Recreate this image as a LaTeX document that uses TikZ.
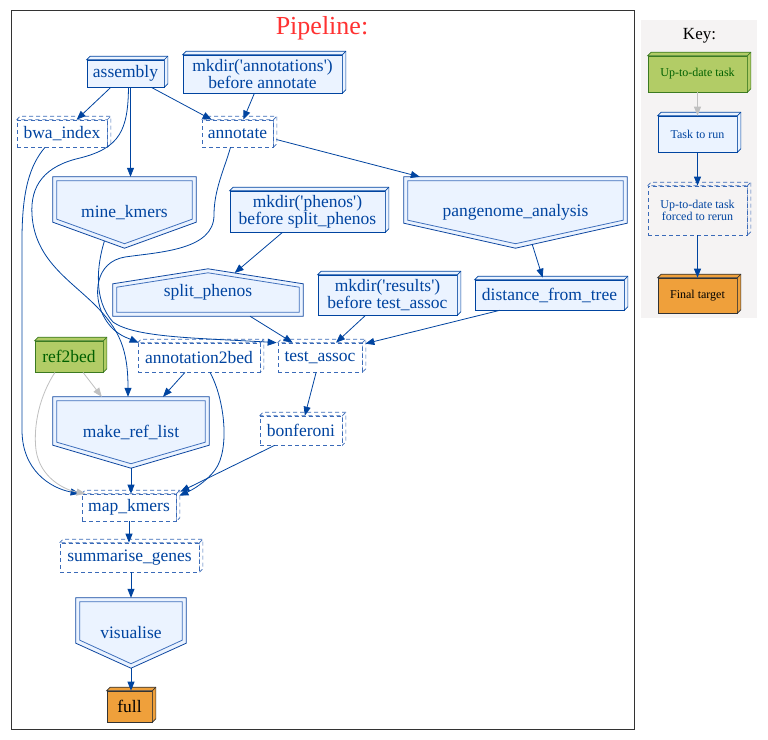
\documentclass[tikz,border=0pt]{standalone}
\usepackage{fontspec}
\setmainfont{Liberation Serif}[Ligatures=TeXOff]
\usetikzlibrary{arrows.meta,calc}
\pgfdeclarelayer{bg}
\pgfsetlayers{bg,main}
\definecolor{tblue}{HTML}{0044A0}
\definecolor{tfill}{HTML}{EBF3FF}
\definecolor{lblue}{HTML}{3A6AB8}
\definecolor{hout}{HTML}{0F47A0}
\definecolor{hin}{HTML}{4070BC}
\definecolor{gfill}{HTML}{B2CC66}
\definecolor{gline}{HTML}{3B7A21}
\definecolor{gtext}{HTML}{006000}
\definecolor{ofill}{HTML}{EFA03B}
\definecolor{keybg}{HTML}{F5F3F3}
\definecolor{titlered}{HTML}{FF3232}
\definecolor{egray}{HTML}{C0C0C0}
\definecolor{framec}{HTML}{333333}
\newcommand\mainf{\fontsize{17.5}{17}\selectfont}
\newcommand\keyf{\fontsize{12}{12.7}\selectfont}
\newcommand\threed[3]{%
  \path[#2, fill=#3] (#1.north west) -- ++(3.5pt,3.5pt) -- ([shift={(3.5pt,3.5pt)}]#1.north east) -- ([shift={(3.5pt,3.5pt)}]#1.south east) -- (#1.south east) -- (#1.north east) -- cycle;
  \path[#2] (#1.north east) -- ++(3.5pt,3.5pt);
}
\newcommand\ihouse[2]{%
  \coordinate (#1-sw) at ($(#1.south west)+(0,-#2)$);
  \coordinate (#1-se) at ($(#1.south east)+(0,-#2)$);
  \begin{pgfonlayer}{bg}
  \path[fill=tfill, draw=hout, line width=0.8pt] (#1.north west) -- (#1.north east) -- (#1-se) -- (#1.south) -- (#1-sw) -- cycle;
  \draw[hin, line width=0.8pt] ($(#1.north west)+(4,4)$) -- ($(#1.north east)+(-4,4)$) -- ($(#1-se)+(-4,-3)$) -- ($(#1.south)+(0,-4.5)$) -- ($(#1-sw)+(4,-3)$) -- cycle;
  \end{pgfonlayer}
}
\newcommand\uhouse[2]{%
  \coordinate (#1-nw) at ($(#1.north west)+(0,#2)$);
  \coordinate (#1-ne) at ($(#1.north east)+(0,#2)$);
  \begin{pgfonlayer}{bg}
  \path[fill=tfill, draw=hout, line width=0.8pt] (#1.north) -- (#1-ne) -- (#1.south east) -- (#1.south west) -- (#1-nw) -- cycle;
  \draw[hin, line width=0.8pt] ($(#1.north)+(0,4)$) -- ($(#1-ne)+(-4,3.4)$) -- ($(#1.south east)+(-4,-4)$) -- ($(#1.south west)+(4,-4)$) -- ($(#1-nw)+(4,3.4)$) -- cycle;
  \end{pgfonlayer}
}
\tikzset{
  tbase/.style={inner sep=0pt, font=\mainf, text=tblue, align=center},
  runline/.style={draw=tblue, line width=0.7pt},
  forcedline/.style={draw=lblue, line width=0.7pt, dash pattern=on 4pt off 3pt},
  gline3/.style={draw=gline, line width=0.7pt},
  oline/.style={draw=framec, line width=0.7pt},
  torun/.style={tbase, runline, fill=tfill},
  forced/.style={tbase, forcedline},
  uptodate/.style={tbase, gline3, fill=gfill, text=gtext},
  tfinal/.style={tbase, oline, fill=ofill, text=black},
  conn/.style={draw=tblue, line width=0.8pt, -{Triangle[length=9pt,width=7pt]}},
  gconn/.style={conn, draw=egray},
}
\begin{document}
\begin{tikzpicture}[x=1pt,y=-1pt]
\useasboundingbox (0,0) rectangle (768,739);
\begin{pgfonlayer}{bg}
\fill[white] (0,0) rectangle (768,739);
\end{pgfonlayer}
\draw[framec, line width=1pt] (11,10) rectangle (634,729);
\fill[keybg] (641,20) rectangle (757,318);

\node[font=\fontsize{26}{28}\selectfont, text=titlered, inner sep=0pt] (title) at (322,28) {Pipeline:};
\node[font=\fontsize{17}{18}\selectfont, inner sep=0pt] (keyt) at (699.5,36) {Key:};

% main nodes
\node[torun, minimum width=77pt, minimum height=27pt] (asm) at (125.5,73.5) {assembly};
\node[torun, minimum width=159pt, minimum height=38pt] (mka) at (262.5,74) {mkdir('annotations')\\before annotate};
\node[forced, minimum width=90pt, minimum height=27pt] (bwa) at (62,133.5) {bwa\_index};
\node[forced, minimum width=71pt, minimum height=27pt] (ann) at (237.5,133.5) {annotate};
\node[tbase, minimum width=143pt, minimum height=71pt] (mk) at (124.5,212.5) {mine\_kmers};
\node[torun, minimum width=155pt, minimum height=41pt] (mkp) at (307.5,211.5) {mkdir('phenos')\\before split\_phenos};
\node[tbase, minimum width=223pt, minimum height=71pt] (pga) at (515.5,212.5) {pangenome\_analysis};
\node[tbase, minimum width=190pt, minimum height=47pt] (sp) at (208,292.5) {split\_phenos};
\node[torun, minimum width=139pt, minimum height=40pt] (mkr) at (387.5,295) {mkdir('results')\\before test\_assoc};
\node[torun, minimum width=149pt, minimum height=30pt] (dft) at (549.5,295) {distance\_from\_tree};
\node[uptodate, minimum width=68pt, minimum height=31pt] (ref) at (69,356.5) {ref2bed};
\node[forced, minimum width=122pt, minimum height=29pt] (a2b) at (199,357.5) {annotation2bed};
\node[forced, minimum width=84pt, minimum height=29pt] (ta) at (320,357.5) {test\_assoc};
\node[tbase, minimum width=156pt, minimum height=71pt] (mrl) at (131,432.5) {make\_ref\_list};
\node[forced, minimum width=82pt, minimum height=29pt] (bon) at (301,430.5) {bonferoni};
\node[forced, minimum width=94pt, minimum height=27pt] (map) at (129,507.5) {map\_kmers};
\node[forced, minimum width=139pt, minimum height=29pt] (sg) at (129.5,557.5) {summarise\_genes};
\node[tbase, minimum width=110pt, minimum height=70pt] (vis) at (131,633) {visualise};
\node[tfinal, minimum width=45pt, minimum height=31pt] (full) at (129.5,706.5) {full};

\threed{asm}{runline}{tfill}
\threed{mka}{runline}{tfill}
\threed{mkp}{runline}{tfill}
\threed{mkr}{runline}{tfill}
\threed{dft}{runline}{tfill}
\threed{bwa}{forcedline}{none}
\threed{ann}{forcedline}{none}
\threed{a2b}{forcedline}{none}
\threed{ta}{forcedline}{none}
\threed{bon}{forcedline}{none}
\threed{map}{forcedline}{none}
\threed{sg}{forcedline}{none}
\threed{ref}{gline3}{gfill}
\threed{full}{oline}{ofill}

\ihouse{mk}{26}
\ihouse{pga}{25}
\ihouse{mrl}{23}
\ihouse{vis}{25}
\uhouse{sp}{15}

% key
\node[uptodate, font=\keyf, minimum width=99pt, minimum height=36pt] (k1) at (697.5,74) {Up-to-date task};
\node[torun, font=\keyf, minimum width=79pt, minimum height=36pt] (k2) at (697.5,134) {Task to run};
\node[forced, font=\keyf, minimum width=99pt, minimum height=49pt] (k3) at (697.5,210.5) {Up-to-date task\\forced to rerun};
\node[tfinal, font=\keyf, minimum width=79pt, minimum height=35pt] (k4) at (697.5,295.5) {Final target};
\threed{k1}{gline3}{gfill}
\threed{k2}{runline}{tfill}
\threed{k3}{forcedline}{none}
\threed{k4}{oline}{ofill}
\draw[gconn] (k1.south) -- (k2.north);
\draw[conn] (k2.south) -- (k3.north);
\draw[conn] (k3.south) -- (k4.north);

% edges
\draw[conn] (asm) -- (bwa);
\draw[conn] (asm) -- (ann);
\draw[conn] ([xshift=5pt]asm.south) -- ([xshift=6pt]mk.north);
\draw[conn] ([xshift=3pt]asm.south) .. controls (128,130) and (120,148) .. (80,158) .. controls (45,166) and (30,185) .. (32,215) .. controls (35,260) and (70,280) .. (95,305) .. controls (120,330) and (128,350) .. ([xshift=-3pt]mrl.north);
\draw[conn] (mka) -- (ann);
\draw[conn] ([xshift=-17pt]bwa.south) .. controls (30,165) and (22,190) .. (22,240) -- (22,430) .. controls (22,470) and (50,488) .. ($(map.north west)+(-2,0)$);
\draw[conn] ([xshift=-7pt]ann.south) .. controls (224,170) and (214,190) .. (214,215) .. controls (214,250) and (160,252) .. (125,257) .. controls (95,262) and (93,295) .. (103,315) .. controls (112,333) and (125,337) .. ([xshift=1pt]a2b.north west);
\draw[conn] ($(mk.south)!0.28!(mk-sw)$) .. controls (97,265) and (93,300) .. (113,322) .. controls (135,338) and (200,338) .. ([xshift=-1pt]ta.north west);
\draw[conn] ([xshift=3pt,yshift=-6pt]ann.east) -- ($(pga.north west)+(16,0)$);
\draw[conn] ([xshift=-25pt]mkp.south) -- ($(sp.north)!0.28!(sp-ne)$);
\draw[conn] ($(sp.south)+(42,0)$) -- ($(ta.north west)+(15,0)$);
\draw[conn] (mkr) -- (ta);
\draw[conn] ($(pga.south)!0.15!(pga-se)$) -- ($(dft.north west)+(68,-2)$);
\draw[conn] ($(dft.south west)+(25,0)$) -- ($(ta.north east)+(3,1)$);
\draw[gconn] ([xshift=14pt]ref.south) -- ($(mrl.north west)+(49,0)$);
\draw[gconn] ([xshift=-14pt]ref.south) .. controls (40,395) and (33,425) .. (36,450) .. controls (40,478) and (65,490) .. ($(map.north west)+(4,0)$);
\draw[conn] ([xshift=-14pt]a2b.south) -- ($(mrl.north)+(32,0)$);
\draw[conn] ([xshift=11pt]a2b.south) .. controls (225,400) and (230,450) .. (215,470) .. controls (205,483) and (192,490) .. ($(map.north east)+(3,2)$);
\draw[conn] (ta) -- (bon);
\draw[conn] ($(bon.south west)+(15,0)$) -- ($(map.north east)+(4,-2)$);
\draw[conn] (mrl.south) -- (mrl.south |- map.north);
\draw[conn] (map.south) -- (map.south |- sg.north);
\draw[conn] (vis.north |- sg.south) -- (vis.north);
\draw[conn] (vis.south) -- (vis.south |- full.north);
\end{tikzpicture}
\end{document}
